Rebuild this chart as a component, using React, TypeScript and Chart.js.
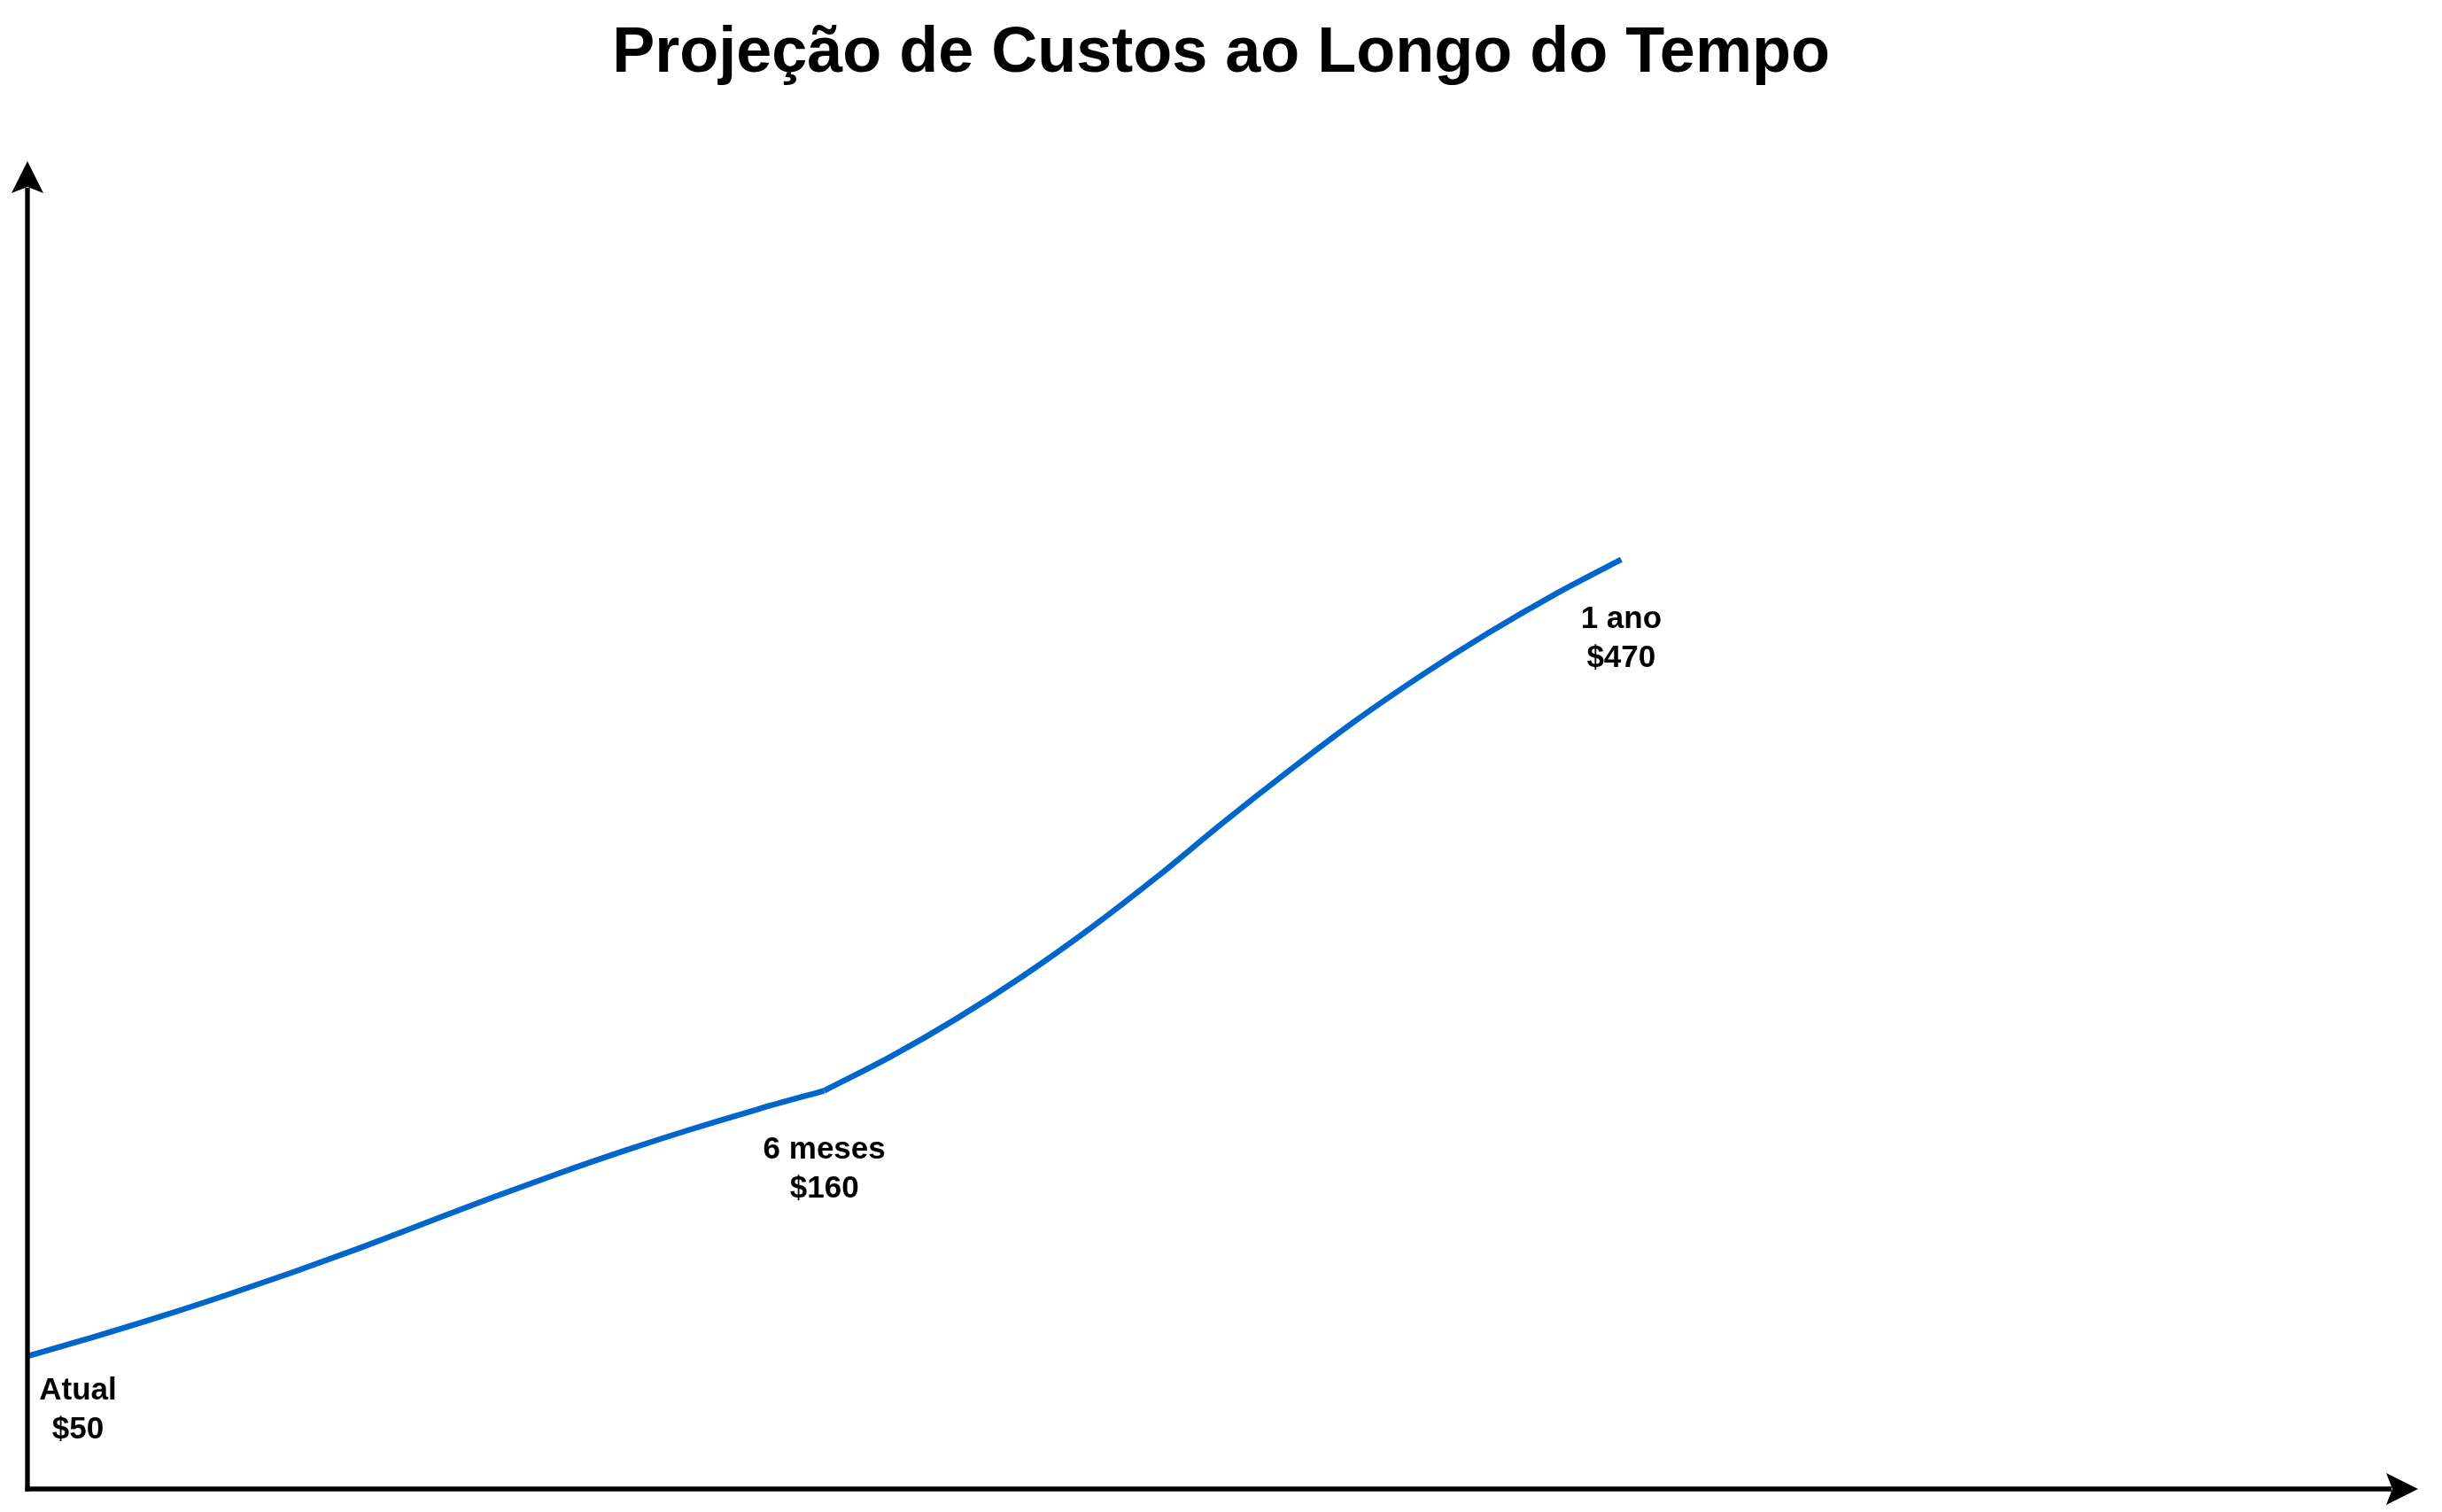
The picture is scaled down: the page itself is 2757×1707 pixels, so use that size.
import React, { useEffect, useRef } from "react";
import { Chart, registerables } from "chart.js";

Chart.register(...registerables);

// Time in months along the horizontal axis (axis ends at 18 months)
const monthsFirstHalf = [0, 0.5, 1, 1.5, 2, 2.5, 3, 3.5, 4, 4.5, 5, 5.5, 6];
const levelFirstHalf = [10.0, 11.45, 12.98, 14.61, 16.33, 18.14, 20.05, 21.95, 23.77, 25.49, 27.1, 28.6, 30.0];
const monthsSecondHalf = [6, 6.5, 7, 7.5, 8, 8.5, 9, 9.5, 10, 10.5, 11, 11.5, 12];
const levelSecondHalf = [30.0, 32.56, 35.45, 38.66, 42.2, 46.06, 50.17, 54.1, 57.86, 61.3, 64.47, 67.37, 70.0];

// Milestones shown as labels
const milestoneMonths = [0, 6, 12];
const milestoneLevels = [10.0, 30.0, 70.0];
const milestoneNames = ["Atual", "6 meses", "1 ano"];
const milestoneCosts = ["$50", "$160", "$470"];

const titleText = "Projeção de Custos ao Longo do Tempo";
const axisMaxMonths = 18;
const axisMaxLevel = 100;

const LINE_COLOR = "#0066CC";
const FONT = "'Liberation Sans', Arial, Helvetica, sans-serif";

const decorPlugin = {
  id: "decor",
  afterDatasetsDraw(chart: any) {
    const { ctx, chartArea, scales } = chart;
    const x0 = chartArea.left;
    const y0 = chartArea.bottom;
    const xEnd = chartArea.right;
    const yTop = chartArea.top;
    ctx.save();
    // axes
    ctx.strokeStyle = "#000";
    ctx.fillStyle = "#000";
    ctx.lineWidth = 5.3;
    ctx.lineCap = "butt";
    ctx.beginPath();
    ctx.moveTo(x0, y0 + 2.6);
    ctx.lineTo(x0, yTop + 30);
    ctx.stroke();
    ctx.beginPath();
    ctx.moveTo(x0 - 2.6, y0);
    ctx.lineTo(xEnd - 30, y0);
    ctx.stroke();
    // arrowheads
    ctx.beginPath();
    ctx.moveTo(x0, yTop);
    ctx.lineTo(x0 + 18, yTop + 36);
    ctx.lineTo(x0, yTop + 29);
    ctx.lineTo(x0 - 18, yTop + 36);
    ctx.closePath();
    ctx.fill();
    ctx.beginPath();
    ctx.moveTo(xEnd, y0);
    ctx.lineTo(xEnd - 36, y0 - 18);
    ctx.lineTo(xEnd - 29, y0);
    ctx.lineTo(xEnd - 36, y0 + 18);
    ctx.closePath();
    ctx.fill();

    // title
    ctx.font = `bold 72px ${FONT}`;
    ctx.textAlign = "center";
    ctx.textBaseline = "alphabetic";
    ctx.fillText(titleText, chart.width / 2, 81);

    // milestone labels
    ctx.font = `bold 35px ${FONT}`;
    milestoneMonths.forEach((m, i) => {
      const px = scales.x.getPixelForValue(m);
      const py = scales.y.getPixelForValue(milestoneLevels[i]);
      const dx = i === 0 ? 57 : 0;
      const dy = i === 0 ? 49 : 77;
      ctx.fillText(milestoneNames[i], px + dx, py + dy);
      ctx.fillText(milestoneCosts[i], px + dx, py + dy + 44);
    });
    ctx.restore();
  },
};

export default function App() {
  const canvasRef = useRef<HTMLCanvasElement | null>(null);

  useEffect(() => {
    const canvas = canvasRef.current;
    if (!canvas) return;
    const chart = new Chart(canvas, {
      type: "line",
      data: {
        datasets: [
          {
            data: monthsFirstHalf.map((m, i) => ({ x: m, y: levelFirstHalf[i] })),
            borderColor: LINE_COLOR,
            borderWidth: 6.5,
            pointRadius: 0,
            cubicInterpolationMode: "monotone",
            fill: false,
            clip: false as any,
          },
          {
            data: monthsSecondHalf.map((m, i) => ({ x: m, y: levelSecondHalf[i] })),
            borderColor: LINE_COLOR,
            borderWidth: 6.5,
            pointRadius: 0,
            cubicInterpolationMode: "monotone",
            fill: false,
            clip: false as any,
          },
        ],
      },
      options: {
        responsive: false,
        animation: false,
        devicePixelRatio: 1,
        layout: { padding: { left: 31, right: 27, top: 182, bottom: 26 } },
        plugins: {
          legend: { display: false },
          tooltip: { enabled: false },
          title: { display: false },
        },
        scales: {
          x: { type: "linear", min: 0, max: axisMaxMonths, display: false },
          y: { type: "linear", min: 0, max: axisMaxLevel, display: false },
        },
      },
      plugins: [decorPlugin],
    });
    return () => chart.destroy();
  }, []);

  return (
    <div style={{ position: "fixed", left: 0, top: 0, width: 2757, height: 1707, background: "#fff" }}>
      <canvas ref={canvasRef} width={2757} height={1707} style={{ display: "block" }} />
    </div>
  );
}
